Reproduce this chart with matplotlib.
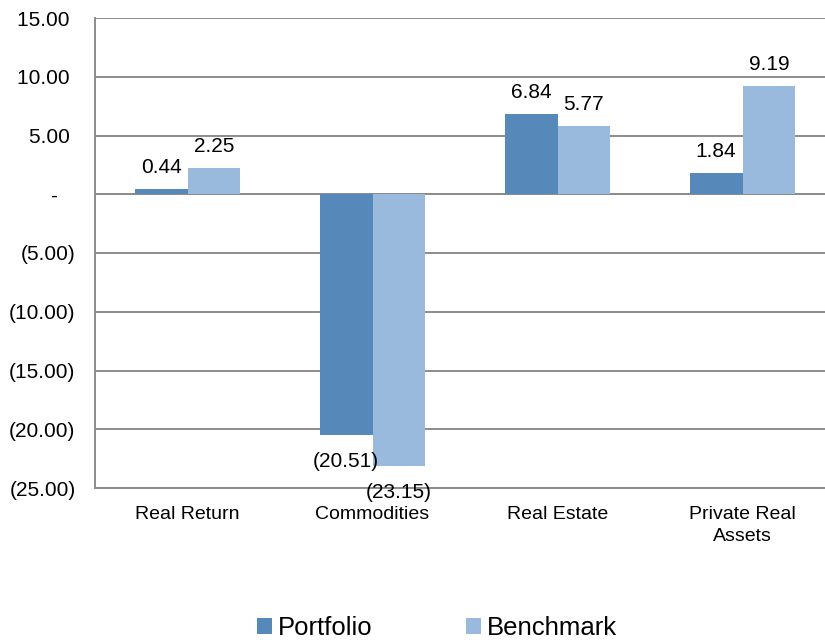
import matplotlib
matplotlib.use("Agg")
import matplotlib.pyplot as plt
import numpy as np
from matplotlib.patches import Patch

plt.rcParams['font.family'] = ['Liberation Sans', 'DejaVu Sans']

categories = ["Real Return", "Commodities", "Real Estate", "Private Real\nAssets"]
portfolio = [0.44, -20.51, 6.84, 1.84]
benchmark = [2.25, -23.15, 5.77, 9.19]
series_names = ["Portfolio", "Benchmark"]
yticks = [15, 10, 5, 0, -5, -10, -15, -20, -25]
yticklabels = ["15.00 ", "10.00 ", "5.00 ", "-   ", "(5.00)", "(10.00)", "(15.00)", "(20.00)", "(25.00)"]

c_port = "#5689BA"
c_bench = "#99B9DD"

def fmt(v):
    return f"({abs(v):.2f})" if v < 0 else f"{v:.2f}"

fig = plt.figure(figsize=(8.25, 6.4), dpi=100)
ax = fig.add_axes([95/825, 1-488/640, 740/825, 470/640])

x = np.arange(len(categories))
w = 0.286
b1 = ax.bar(x - w/2, portfolio, w, color=c_port, zorder=3)
b2 = ax.bar(x + w/2, benchmark, w, color=c_bench, zorder=3)

for bars, vals in ((b1, portfolio), (b2, benchmark)):
    for bar, v in zip(bars, vals):
        cx = bar.get_x() + bar.get_width()/2
        if v >= 0:
            ax.annotate(fmt(v), (cx, v), xytext=(0, 12), textcoords='offset pixels',
                        ha='center', va='bottom', fontsize=15, color='black', zorder=4)
        else:
            ax.annotate(fmt(v), (cx, v), xytext=(0, -17), textcoords='offset pixels',
                        ha='center', va='top', fontsize=15, color='black', zorder=4)

ax.set_xlim(-0.5, len(categories) - 0.5)
ax.set_ylim(-25, 15)
ax.set_yticks(yticks)
ax.set_yticklabels(yticklabels)
ax.set_xticks(x)
ax.set_xticklabels(categories, linespacing=1.4)
ax.tick_params(axis='y', length=0, pad=14, labelsize=15)
ax.tick_params(axis='x', length=0, pad=13, labelsize=14)
ax.yaxis.grid(True, color='#8C8C8C', linewidth=1.4, zorder=0)
ax.set_axisbelow(True)
for s in ['top', 'right']:
    ax.spines[s].set_visible(False)
ax.spines['left'].set_color('#8C8C8C')
ax.spines['left'].set_linewidth(1.4)
ax.spines['bottom'].set_color('#8C8C8C')
ax.spines['bottom'].set_linewidth(1.4)
ax.axhline(0, color='#8C8C8C', linewidth=1.4, zorder=2)

handles = [Patch(facecolor=c_port, edgecolor='none'), Patch(facecolor=c_bench, edgecolor='none')]
fig.legend(handles, series_names, loc='center', bbox_to_anchor=(437/825, 1-628/640), ncol=2,
           frameon=False, fontsize=18.5, handlelength=0.6, handleheight=0.6,
           handletextpad=0.25, columnspacing=3.6, borderaxespad=0, borderpad=0)

fig.savefig("out.png", dpi=100)
